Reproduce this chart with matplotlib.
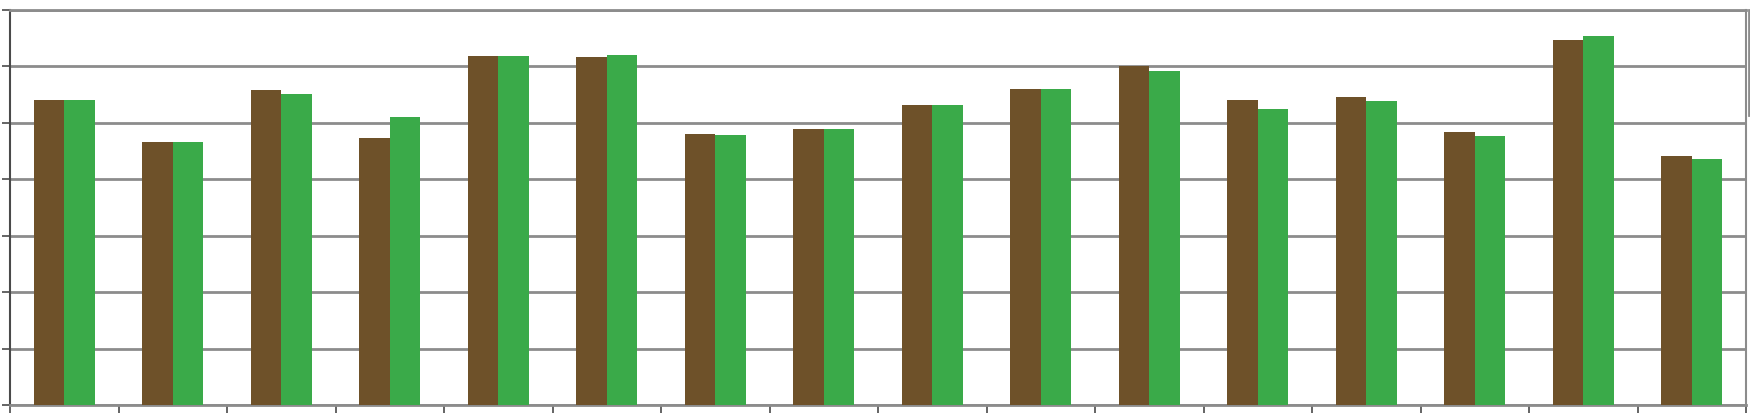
import matplotlib.pyplot as plt
import numpy as np
from matplotlib.lines import Line2D

BROWN = "#6e5129"
GREEN = "#3aaa49"
GRID = "#8c8c8c"
AXIS = "#4a4a4a"
BAR_W = 0.281

groups = list(range(1, 17))
series_a = [5.40, 4.66, 5.59, 4.73, 6.19, 6.16, 4.80, 4.89,
            5.32, 5.60, 6.00, 5.40, 5.46, 4.83, 6.46, 4.41]
series_b = [5.40, 4.66, 5.52, 5.11, 6.19, 6.21, 4.78, 4.89,
            5.31, 5.60, 5.92, 5.25, 5.39, 4.77, 6.54, 4.36]
y_ticks = list(range(0, 8))

fig = plt.figure(figsize=(17.5, 4.15), dpi=100)
ax = fig.add_axes([10 / 1750, 10 / 415, 1736 / 1750, 395 / 415])

x = np.arange(len(groups))
ax.bar(x - BAR_W / 2, series_a, width=BAR_W, color=BROWN, zorder=3)
ax.bar(x + BAR_W / 2, series_b, width=BAR_W, color=GREEN, zorder=3)

ax.set_xlim(-0.5, len(groups) - 0.5)
ax.set_ylim(0, 7)
ax.set_yticks(y_ticks)
ax.set_xticks(np.arange(len(groups) + 1) - 0.5)
ax.set_xticklabels([])
ax.set_yticklabels([])
ax.yaxis.grid(True, color=GRID, linewidth=2, zorder=0)
ax.tick_params(axis="both", direction="out", length=6, width=1.2, color=AXIS)

ax.spines["left"].set_color(AXIS)
ax.spines["left"].set_linewidth(1.5)
ax.spines["bottom"].set_color(GRID)
ax.spines["bottom"].set_linewidth(2)
ax.spines["top"].set_color(GRID)
ax.spines["top"].set_linewidth(2)
ax.spines["right"].set_color(GRID)
ax.spines["right"].set_linewidth(1.5)

# stray frame edge at the far right
fig.add_artist(Line2D([1749 / 1750, 1749 / 1750], [1 - 10 / 415, 1 - 115 / 415],
                      color=GRID, linewidth=2, transform=fig.transFigure))

fig.savefig("out.png", dpi=100)
